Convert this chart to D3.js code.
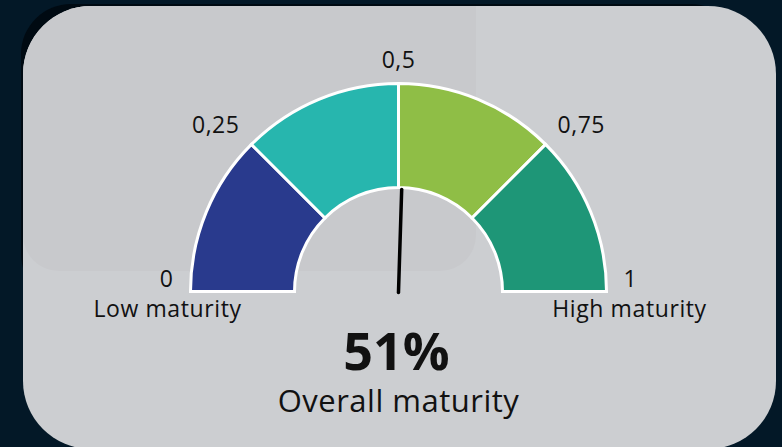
<!DOCTYPE html>
<html>
<head>
<meta charset="utf-8">
<script src="https://cdn.jsdelivr.net/npm/d3@7"></script>
<style>
  html, body { margin: 0; padding: 0; background: #031827; }
  svg { display: block; }
  text { font-family: "Open Sans", "Noto Sans", sans-serif; fill: #111; }
</style>
</head>
<body>
<script>
// ---- data ----
const segmentBreaks = [0, 0.25, 0.5, 0.75, 1];
const segmentColors = ["#293a8d", "#27b6ae", "#8fbe46", "#1e9677"];
const tickValues = [0, 0.25, 0.5, 0.75, 1];
const tickLabels = ["0", "0,25", "0,5", "0,75", "1"];
const endLabels = ["Low maturity", "High maturity"];
const gaugeValue = 0.51;
const valueLabel = "51%";
const caption = "Overall maturity";

// ---- layout ----
const W = 782, H = 447;
const cx = 398.5, cy = 291.5;
const rInner = 104, rOuter = 208, rLabel = 225;

const svg = d3.select("body").append("svg").attr("width", W).attr("height", H);

svg.append("rect").attr("width", W).attr("height", H).attr("fill", "#031827");
// shadow & card
svg.append("rect").attr("x", 21).attr("y", 4).attr("width", 720).attr("height", 300)
  .attr("rx", 50).attr("fill", "#000a12");
svg.append("rect").attr("x", 23).attr("y", 6).attr("width", 753).attr("height", 443)
  .attr("rx", 68).attr("fill", "#ccced1");
// subtle inner panel
svg.append("path")
  .attr("d", (() => {
    const x0 = 23, y0 = 6, x1 = 476, y1 = 271, rTL = 68, rB = 36;
    return `M${x0},${y0 + rTL} A${rTL},${rTL} 0 0 1 ${x0 + rTL},${y0} L${x1},${y0} L${x1},${y1 - rB} A${rB},${rB} 0 0 1 ${x1 - rB},${y1} L${x0 + rB},${y1} A${rB},${rB} 0 0 1 ${x0},${y1 - rB} Z`;
  })())
  .attr("fill", "#c8c9cc");

const angle = d3.scaleLinear().domain([0, 1]).range([-Math.PI / 2, Math.PI / 2]);
const arc = d3.arc().innerRadius(rInner).outerRadius(rOuter);

const g = svg.append("g").attr("transform", `translate(${cx},${cy})`);

const segs = d3.range(segmentColors.length).map(i => ({
  start: segmentBreaks[i], end: segmentBreaks[i + 1], color: segmentColors[i]
}));

g.selectAll("path.seg").data(segs).join("path")
  .attr("class", "seg")
  .attr("d", d => arc({ startAngle: angle(d.start), endAngle: angle(d.end) }))
  .attr("fill", d => d.color)
  .attr("stroke", "#ffffff")
  .attr("stroke-width", 3)
  .attr("stroke-linejoin", "miter");

// tick labels
g.selectAll("text.tick").data(tickValues).join("text")
  .attr("class", "tick")
  .attr("x", d => rLabel * Math.sin(angle(d)))
  .attr("y", d => -rLabel * Math.cos(angle(d)) + 1 + (Math.cos(angle(d)) < 0.1 ? -6 : 0))
  .attr("text-anchor", d => d < 0.5 ? "end" : d > 0.5 ? "start" : "middle")
  .attr("font-size", 23)
  .attr("letter-spacing", 0.5)
  .text((d, i) => tickLabels[i]);

// end labels
g.selectAll("text.end").data(endLabels).join("text")
  .attr("class", "end")
  .attr("x", (d, i) => (i === 0 ? -1 : 1) * 231)
  .attr("y", 25.5)
  .attr("text-anchor", "middle")
  .attr("font-size", 23)
  .attr("letter-spacing", 0.6)
  .text(d => d);

// needle
const a = angle(gaugeValue);
g.append("line")
  .attr("x1", -1 * Math.sin(a)).attr("y1", 1 * Math.cos(a))
  .attr("x2", (rInner - 2) * Math.sin(a)).attr("y2", -(rInner - 2) * Math.cos(a))
  .attr("stroke", "#000").attr("stroke-width", 3.5).attr("stroke-linecap", "round");

// value + caption
g.append("text").attr("x", -2).attr("y", 78).attr("text-anchor", "middle")
  .attr("font-size", 52).attr("font-weight", 700).text(valueLabel);
g.append("text").attr("x", 0).attr("y", 120).attr("text-anchor", "middle")
  .attr("font-size", 31).attr("letter-spacing", 0.5).text(caption);
</script>
</body>
</html>
